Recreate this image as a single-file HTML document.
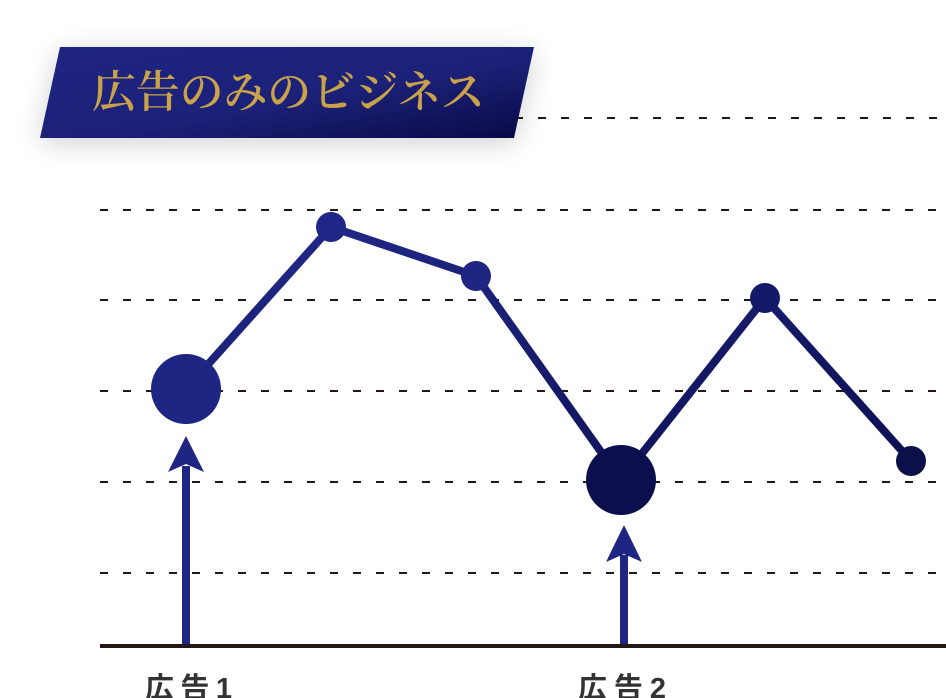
<!DOCTYPE html>
<html><head><meta charset="utf-8"><style>
html,body{margin:0;padding:0;background:#fff;width:946px;height:698px;overflow:hidden}
</style></head><body>
<svg width="946" height="698" viewBox="0 0 946 698" xmlns="http://www.w3.org/2000/svg">
<defs>
<linearGradient id="bg" x1="0" y1="0" x2="1" y2="1">
<stop offset="0" stop-color="#1e2582"/><stop offset="0.55" stop-color="#1c2178"/><stop offset="1" stop-color="#080a45"/>
</linearGradient>
<linearGradient id="ln" x1="0" y1="0" x2="1" y2="1">
<stop offset="0" stop-color="#222a8a"/><stop offset="1" stop-color="#0c0f50"/>
</linearGradient>
<filter id="sh" x="-20%" y="-50%" width="140%" height="200%"><feGaussianBlur stdDeviation="14"/></filter>
</defs>
<g stroke="#231815" stroke-width="2" stroke-dasharray="8 15">
<line x1="515" y1="118" x2="946" y2="118"/>
<line x1="100" y1="210" x2="946" y2="210"/>
<line x1="100" y1="300" x2="946" y2="300"/>
<line x1="100" y1="391" x2="946" y2="391"/>
<line x1="100" y1="482" x2="946" y2="482"/>
<line x1="100" y1="573" x2="946" y2="573"/>
</g>
<polygon points="60,52 534,52 514,143 40,143" fill="#000" opacity="0.18" filter="url(#sh)"/>
<polygon points="60,47 534,47 514,138 40,138" fill="url(#bg)"/>
<text x="92" y="107" font-family="'Noto Serif CJK JP','Noto Serif CJK SC','Liberation Serif',serif" font-size="44" font-weight="600" fill="#c9a24a" textLength="393" lengthAdjust="spacing">広告のみのビジネス</text>
<polyline points="186,389 331,227 476,276 621,480 765,298 911,461" fill="none" stroke="url(#ln)" stroke-width="8" stroke-linejoin="round"/>
<circle cx="186" cy="389" r="35" fill="#1e2582"/>
<circle cx="331" cy="227" r="15" fill="#1f2687"/>
<circle cx="476" cy="276" r="15" fill="#1e2582"/>
<circle cx="621" cy="480" r="35" fill="#0c0f4e"/>
<circle cx="765" cy="298" r="15" fill="#141a6a"/>
<circle cx="911" cy="461" r="15" fill="#0c0f4a"/>
<rect x="182" y="466" width="8" height="178" fill="#1e2582"/>
<path d="M186,436 L204,472 L186,464 L168,472 Z" fill="#1e2582"/>
<rect x="620" y="555" width="8" height="89" fill="#1e2582"/>
<path d="M624,525 L642,562 L624,554 L606,562 Z" fill="#1e2582"/>
<rect x="100" y="644" width="846" height="4" fill="#231815"/>
<text x="145" y="698" font-family="'Liberation Sans','Noto Sans CJK JP',sans-serif" font-size="29" font-weight="700" fill="#333" textLength="87" lengthAdjust="spacing">広告1</text>
<text x="578" y="698" font-family="'Liberation Sans','Noto Sans CJK JP',sans-serif" font-size="29" font-weight="700" fill="#333" textLength="88" lengthAdjust="spacing">広告2</text>
</svg>
</body></html>
